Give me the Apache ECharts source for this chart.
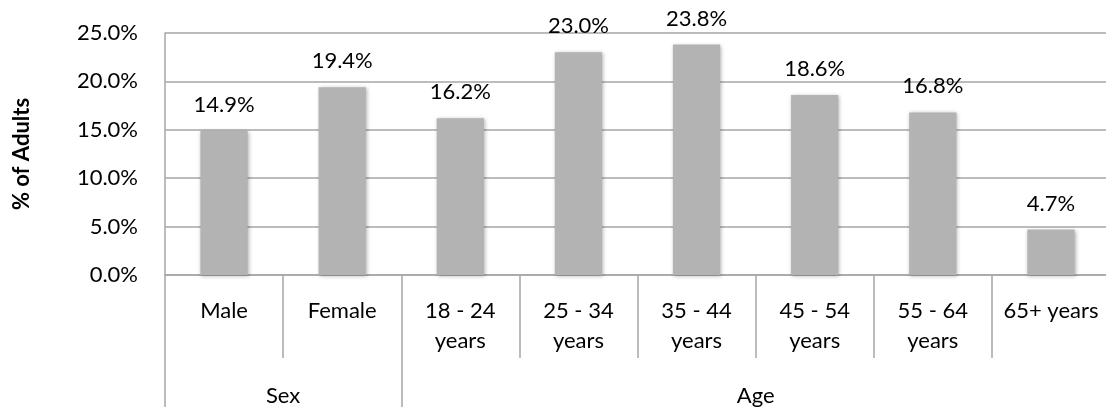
<!DOCTYPE html>
<html>
<head>
<meta charset="utf-8">
<script src="https://cdn.jsdelivr.net/npm/echarts@6/dist/echarts.min.js"></script>
<style>
html,body{margin:0;padding:0;background:#fff;}
#c{width:1106px;height:412px;}
</style>
</head>
<body>
<div id="c"></div>
<script>
const categories = ['Male', 'Female', '18 - 24\nyears', '25 - 34\nyears', '35 - 44\nyears', '45 - 54\nyears', '55 - 64\nyears', '65+ years'];
const values = [14.9, 19.4, 16.2, 23.0, 23.8, 18.6, 16.8, 4.7];
const groupNames = ['Sex', 'Age'];
const groupSizes = [2, 6];
const yTicks = [0, 5, 10, 15, 20, 25];

// build group axis slots (boundary points)
const nSlots = categories.length + 1;
const groupSlots = new Array(nSlots).fill('');
const boundaries = [0];
let pos = 0;
groupNames.forEach((g, i) => {
  groupSlots[pos + groupSizes[i] / 2] = g;
  pos += groupSizes[i];
  boundaries.push(pos);
});

const FONT = 'Lato, "Open Sans", sans-serif';
const FS = 22;
const GRID = '#a6a6a6';

const chart = echarts.init(document.getElementById('c'), null, {renderer: 'canvas'});
chart.setOption({
  animation: false,
  backgroundColor: '#ffffff',
  grid: {left: 165, top: 33, width: 945, bottom: 137, containLabel: false, outerBoundsMode: 'none'},
  xAxis: [
    {
      type: 'category',
      data: categories,
      position: 'bottom',
      boundaryGap: true,
      axisLine: {show: true, lineStyle: {color: GRID, width: 1.5}},
      axisTick: {show: true, length: 83, alignWithLabel: false, interval: 0, lineStyle: {color: GRID, width: 1.5}},
      axisLabel: {interval: 0, margin: 21, fontFamily: FONT, fontSize: FS, color: '#000', lineHeight: 30, verticalAlign: 'top'}
    },
    {
      type: 'category',
      data: groupSlots,
      position: 'bottom',
      boundaryGap: false,
      axisLine: {show: false},
      axisTick: {show: true, length: 132, interval: (idx) => boundaries.includes(idx), lineStyle: {color: GRID, width: 1.5}},
      axisLabel: {interval: 0, margin: 107, fontFamily: FONT, fontSize: FS, color: '#000', lineHeight: 28, verticalAlign: 'top'}
    }
  ],
  yAxis: {
    type: 'value',
    min: yTicks[0],
    max: yTicks[yTicks.length - 1],
    interval: yTicks[1] - yTicks[0],
    name: '% of Adults',
    nameLocation: 'middle',
    nameGap: 132,
    nameRotate: 90,
    nameTextStyle: {fontFamily: FONT, fontSize: FS, fontWeight: 'bold', color: '#000'},
    axisLine: {show: true, lineStyle: {color: GRID, width: 1.5}},
    axisTick: {show: false},
    axisLabel: {margin: 27, fontFamily: FONT, fontSize: FS, color: '#000', formatter: (v) => v.toFixed(1) + '%'},
    splitLine: {show: true, lineStyle: {color: GRID, width: 1.5}}
  },
  series: [{
    type: 'bar',
    xAxisIndex: 0,
    data: values,
    barWidth: '40%',
    itemStyle: {color: '#b3b3b3', shadowBlur: 4, shadowColor: 'rgba(0,0,0,0.3)', shadowOffsetX: 1, shadowOffsetY: 1},
    label: {show: true, position: 'top', distance: 15, fontFamily: FONT, fontSize: FS, color: '#000', formatter: (p) => p.value.toFixed(1) + '%'}
  }]
});
</script>
</body>
</html>
